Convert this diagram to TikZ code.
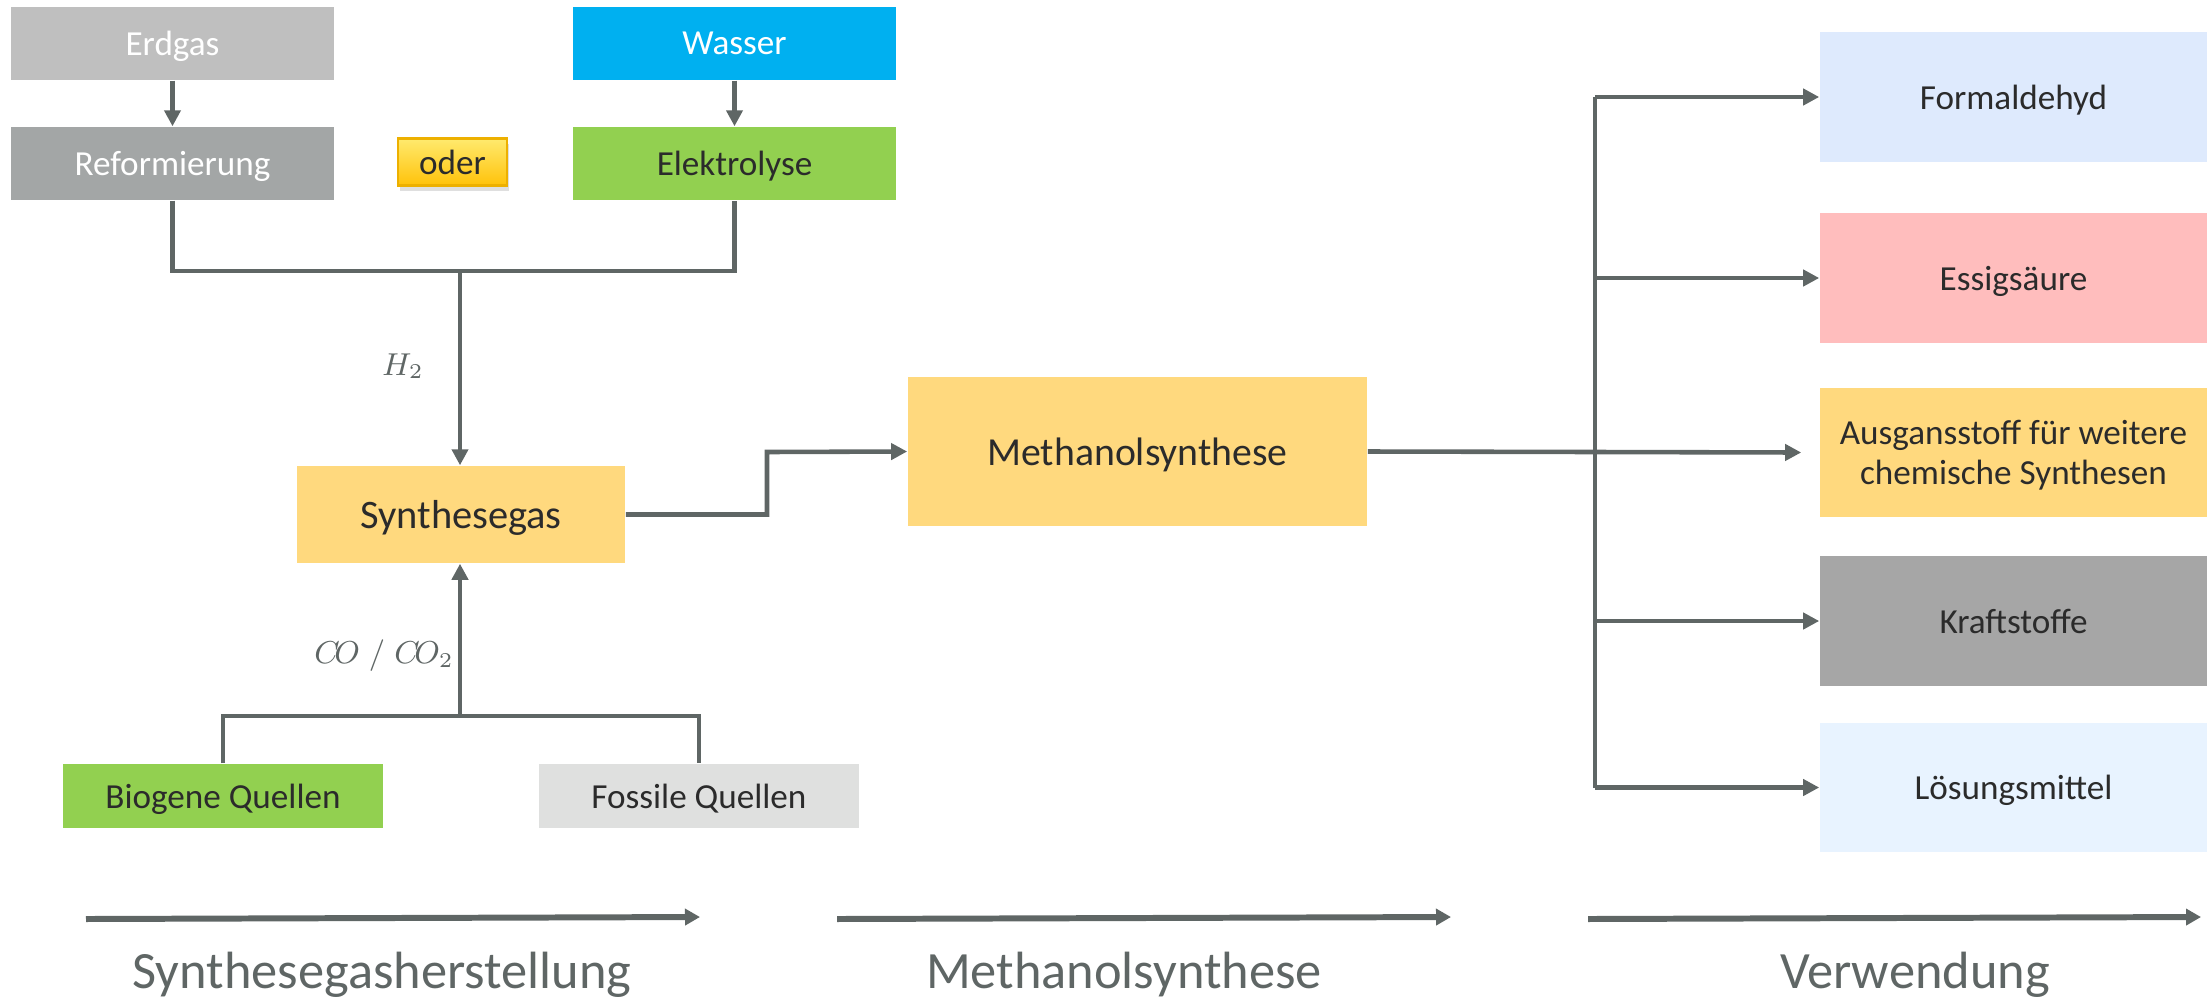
\documentclass[tikz,border=0pt]{standalone}
\usepackage{fontspec}
\setmainfont{Carlito}
\usetikzlibrary{positioning, arrows.meta, shadows}

\definecolor{linegray}{HTML}{5F6665}
\definecolor{textdark}{HTML}{2B2B2B}
\definecolor{erdgasgray}{HTML}{BFBFBF}
\definecolor{wasserblue}{HTML}{00B0F0}
\definecolor{reformgray}{HTML}{A3A6A6}
\definecolor{elektrogreen}{HTML}{92D050}
\definecolor{synorange}{HTML}{FFD97E}
\definecolor{fossilgray}{HTML}{DFE0DF}
\definecolor{formalblue}{HTML}{DEEAFD}
\definecolor{essigred}{HTML}{FFBDBD}
\definecolor{kraftgray}{HTML}{A6A6A6}
\definecolor{loesungblue}{HTML}{E8F3FF}
\definecolor{odertop}{HTML}{FFEA6E}
\definecolor{oderbot}{HTML}{FFC20A}
\definecolor{oderborder}{HTML}{EDB000}

\begin{document}
\begin{tikzpicture}[x=0.01cm, y=-0.01cm, font=\fontsize{10}{11.5}\selectfont,
	box/.style={rectangle, inner sep=0pt, text=textdark, align=center, text depth=0pt},
	topbox/.style={box, minimum width=3.22cm, minimum height=0.73cm},
	srcbox/.style={box, minimum width=3.2cm, minimum height=0.64cm},
	usebox/.style={box, minimum width=3.87cm, minimum height=1.29cm},
	flow/.style={draw=linegray, line width=1.3pt, -{Triangle[length=1.6mm,width=1.6mm]}},
	conn/.style={draw=linegray, line width=1.3pt},
	phase/.style={draw=linegray, line width=1.7pt, -{Triangle[length=1.5mm,width=1.6mm]}},
	phaselabel/.style={text=linegray, font=\fontsize{14.9}{17}\selectfont},
	stofflabel/.style={text=linegray, font=\fontsize{9}{11}\selectfont}]
	\useasboundingbox (0,0) rectangle (2207,1000);

	% Wasserstoff
	\node[topbox, fill=erdgasgray, text=white] (erdgas) at (172.5,43.5) {Erdgas};
	\node[topbox, fill=wasserblue, text=white] (wasser) at (734.5,43.5) {Wasser};
	\node[topbox, fill=reformgray, text=white] (reform) at (172.5,163.5) {Reformierung};
	\node[topbox, fill=elektrogreen] (elektro) at (734.5,163.5) {Elektrolyse};
	\node[box, minimum width=1.09cm, minimum height=0.47cm, draw=oderborder, line width=0.6pt,
		top color=odertop, bottom color=oderbot,
		drop shadow={opacity=0.25, shadow xshift=0.6pt, shadow yshift=-1.6pt}] (oder) at (452.5,162) {oder};

	% Synthesegas
	\node[box, fill=synorange, minimum width=3.28cm, minimum height=0.97cm,
		font=\fontsize{11.5}{13.5}\selectfont] (syngas) at (461,514.5) {Synthesegas};
	\node[srcbox, fill=elektrogreen] (biogen) at (223,796) {Biogene Quellen};
	\node[srcbox, fill=fossilgray] (fossil) at (699,796) {Fossile Quellen};
	\coordinate (h2) at (460,271);
	\coordinate (co) at (460,716);
	\node[stofflabel] (h2label) at (403,366) {$H_2$};
	\node[stofflabel] (colabel) at (384,656) {$C\!O\;/\;C\!O_2$};

	% Methanol
	\node[box, fill=synorange, minimum width=4.59cm, minimum height=1.49cm,
		font=\fontsize{11.3}{13.5}\selectfont] (methanol) at (1137.5,451.5) {Methanolsynthese};
	\coordinate (knick) at (767,452);
	\coordinate (verteiler) at (1595,452);

	% Verwendung
	\node[usebox, fill=formalblue] (formal) at (2013.5,97) {Formaldehyd};
	\node[usebox, fill=essigred] (essig) at (2013.5,278) {Essigsäure};
	\node[usebox, fill=synorange] (ausgang) at (2013.5,452.5) {Ausgansstoff für weitere\\chemische Synthesen};
	\node[usebox, fill=kraftgray] (kraft) at (2013.5,621) {Kraftstoffe};
	\node[usebox, fill=loesungblue] (loesung) at (2013.5,787.5) {Lösungsmittel};

	\draw[flow] (erdgas) -- (reform);
	\draw[flow] (wasser) -- (elektro);
	\draw[conn] (reform.south) |- (h2) -| (elektro.south);
	\draw[flow] (h2) -- (h2 |- syngas.north);
	\draw[conn] (biogen.north) |- (co) -| (fossil.north);
	\draw[flow] (co) -- (co |- syngas.south);
	\draw[flow] (syngas.east) -| (knick) -- (methanol.west);
	\draw[conn] (methanol.east) -- (verteiler);
	\draw[conn] (verteiler |- formal.west) -- (verteiler |- loesung.west);
	\draw[flow] (verteiler) -- ([xshift=-0.18cm]ausgang.west);
	\foreach \n in {formal, essig, kraft, loesung}
		\draw[flow] (verteiler |- \n.west) -- (\n.west);

	% Phasen
	\foreach \i/\xa/\xb/\xl/\txt in {1/86/700/382/Synthesegasherstellung,
		2/837/1451/1124/Methanolsynthese, 3/1588/2201/1915/Verwendung} {
		\coordinate (p\i a) at (\xa,919);
		\coordinate (p\i b) at (\xb,917);
		\draw[phase] (p\i a) -- (p\i b);
		\node[phaselabel] (l\i) at (\xl,975) {\txt};
	}
\end{tikzpicture}
\end{document}
